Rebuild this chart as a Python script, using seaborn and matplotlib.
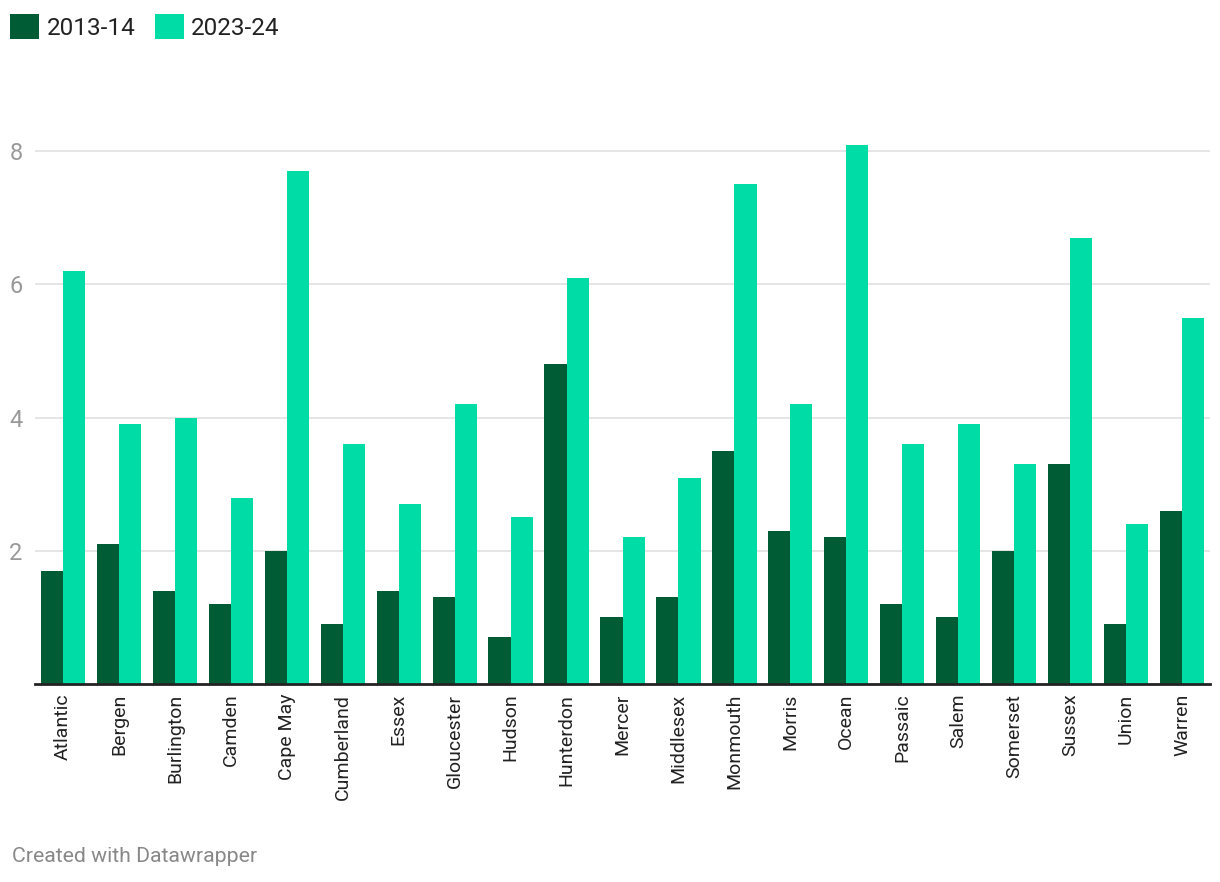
import pandas as pd
import matplotlib
matplotlib.use("Agg")
import matplotlib.pyplot as plt
import seaborn as sns
from matplotlib.patches import Patch

# dados
condados = ["Atlantic", "Bergen", "Burlington", "Camden", "Cape May", "Cumberland",
            "Essex", "Gloucester", "Hudson", "Hunterdon", "Mercer", "Middlesex",
            "Monmouth", "Morris", "Ocean", "Passaic", "Salem", "Somerset",
            "Sussex", "Union", "Warren"]
valores_2013 = [1.7, 2.1, 1.4, 1.2, 2.0, 0.9, 1.4, 1.3, 0.7, 4.8, 1.0, 1.3,
                3.5, 2.3, 2.2, 1.2, 1.0, 2.0, 3.3, 0.9, 2.6]
valores_2023 = [6.2, 3.9, 4.0, 2.8, 7.7, 3.6, 2.7, 4.2, 2.5, 6.1, 2.2, 3.1,
                7.5, 4.2, 8.1, 3.6, 3.9, 3.3, 6.7, 2.4, 5.5]
series = ["2013-14", "2023-24"]
y_ticks = [2, 4, 6, 8]

cores = ["#005c35", "#00dca6"]

df = pd.DataFrame({
    "condado": condados * 2,
    "valor": valores_2013 + valores_2023,
    "periodo": [series[0]] * len(condados) + [series[1]] * len(condados),
})

sns.set_theme(style="white")
plt.rcParams["font.family"] = ["Roboto", "DejaVu Sans"]

fig = plt.figure(figsize=(12.2, 8.82), dpi=100)
ax = fig.add_axes([35 / 1220, (882 - 684) / 882, 1175 / 1220, 539.5 / 882])

sns.barplot(data=df, x="condado", y="valor", hue="periodo", palette=cores,
            width=0.79, gap=0, saturation=1, legend=False, linewidth=0,
            edgecolor="none", ax=ax)

ax.set_xlim(-0.5, len(condados) - 0.5)
ax.set_ylim(0, 8.1)
ax.set_yticks(y_ticks)
ax.set_yticklabels([str(t) for t in y_ticks])
ax.yaxis.grid(True, color="#e3e3e3", linewidth=1.3)
ax.set_axisbelow(True)
ax.set_xlabel("")
ax.set_ylabel("")

for lado in ["top", "right", "left"]:
    ax.spines[lado].set_visible(False)
ax.spines["bottom"].set_color("#222222")
ax.spines["bottom"].set_linewidth(2)

ax.tick_params(axis="y", length=0, pad=9, labelsize=17, labelcolor="#999999")
ax.tick_params(axis="x", length=0, pad=7, labelsize=14, labelcolor="#222222")
plt.setp(ax.get_xticklabels(), rotation=90)

# legenda no topo
handles = [Patch(facecolor=c, edgecolor="none") for c in cores]
fig.legend(handles, series, loc="upper left", bbox_to_anchor=(10 / 1220, 1 - 14 / 882),
           ncol=2, frameon=False, fontsize=17.5, handlelength=1.2, handleheight=1.2,
           handletextpad=0.3, columnspacing=0.8, borderpad=0, borderaxespad=0,
           labelcolor="#222222")

fig.text(12 / 1220, 1 - 857 / 882, "Created with Datawrapper", fontsize=15.3,
         color="#888888", va="center", ha="left")

fig.savefig("out.png", dpi=100, facecolor="white")
plt.close(fig)
